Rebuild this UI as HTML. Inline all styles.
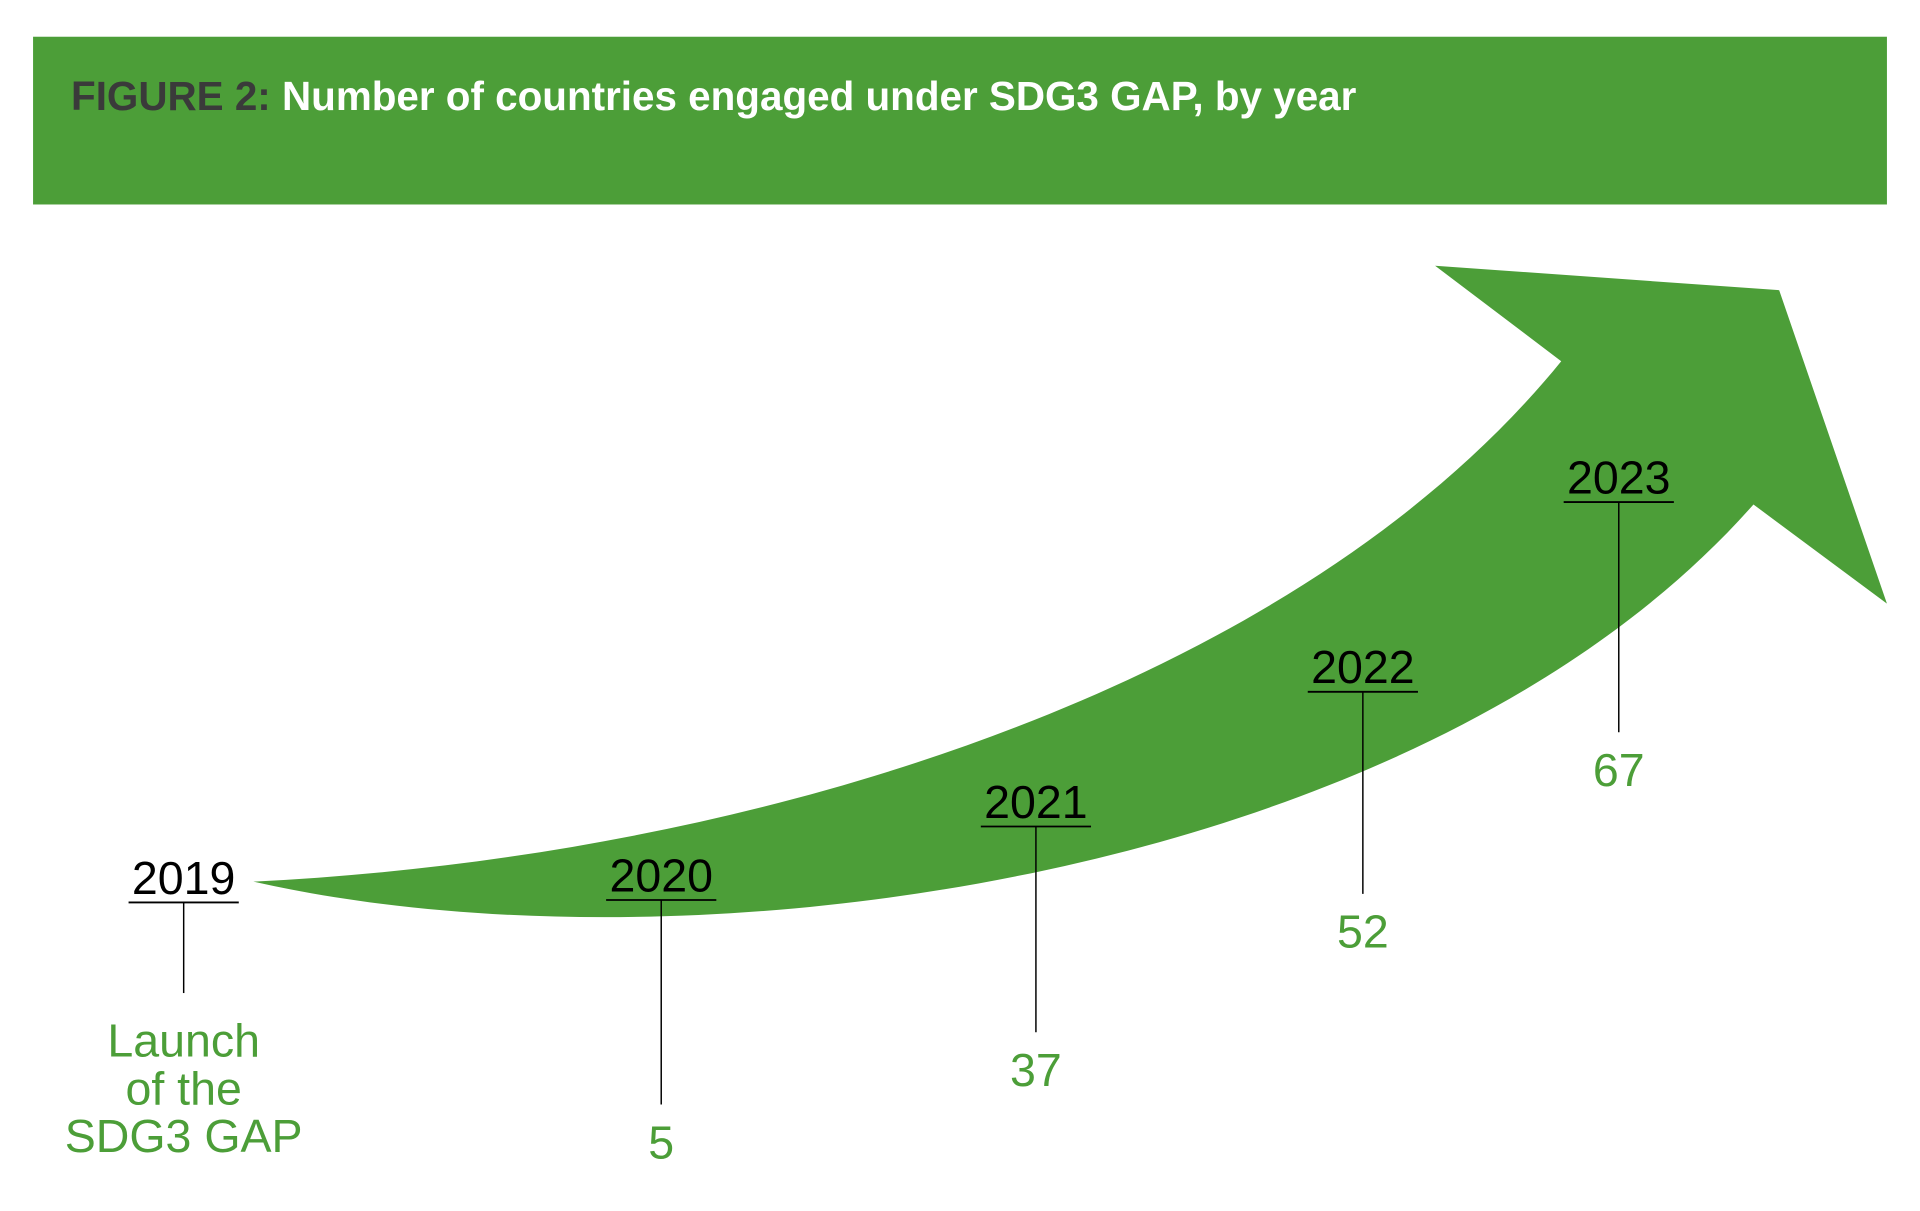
<!DOCTYPE html>
<html><head><meta charset="utf-8"><style>
html,body{margin:0;padding:0;background:#fff;}
svg{display:block;}
text{font-family:"Liberation Sans",sans-serif;}
</style></head><body>
<svg id="chart" width="1920" height="1211" viewBox="0 0 1568 989" preserveAspectRatio="none">
<rect x="27" y="30" width="1514" height="137" fill="#4c9e38"/>
<text x="58" y="90" font-size="33" font-weight="bold" fill="#fff"><tspan fill="#3a3a3a">FIGURE 2:</tspan> Number of countries engaged under SDG3 GAP, by year</text>
<path fill="#4c9e38" d="M207,720 C620,700 1060,560 1275,295 L1172,217 L1453,237 L1541,493 L1432,412 C1160,720 560,800 207,720 Z"/>
<g id="labels"></g>
</svg>
<script>
const years = ["2019","2020","2021","2022","2023"];
const values = ["", "5", "37", "52", "67"];
// layout (not data)
const cx = [150,540,846,1113,1322];
const yearBase = [730,728,668,558,403];
const lineEnd = [811,902,843,730,598];
const NS = "http://www.w3.org/2000/svg";
const g = document.getElementById('labels');
function mk(tag, attrs){const e=document.createElementNS(NS,tag);for(const k in attrs)e.setAttribute(k,attrs[k]);return e;}
years.forEach((yr,i)=>{
  const t = mk('text',{x:cx[i],y:yearBase[i],'text-anchor':'middle','font-size':38,fill:'#000'});
  t.textContent = yr;
  
  
  g.appendChild(t);
  const u = mk('line',{x1:cx[i]-45,x2:cx[i]+45,y1:yearBase[i]+7,y2:yearBase[i]+7,stroke:'#000','stroke-width':1.5});
  
  
  g.appendChild(u);
  const l = mk('line',{x1:cx[i],x2:cx[i],y1:yearBase[i]+7,y2:lineEnd[i],stroke:'#000','stroke-width':1.2});
  
  
  g.appendChild(l);
  if(values[i]!==""){
    const v = mk('text',{x:cx[i],y:lineEnd[i]+44,'text-anchor':'middle','font-size':38,fill:'#4c9e38'});
    v.textContent = values[i];
    
    
    g.appendChild(v);
  }
});
const launch = ["Launch","of the","SDG3 GAP"];
launch.forEach((s,i)=>{
  const t = mk('text',{x:150,y:863+i*39,'text-anchor':'middle','font-size':38,fill:'#4c9e38'});
  t.textContent = s;
  
  
  g.appendChild(t);
});
</script>
</body></html>
